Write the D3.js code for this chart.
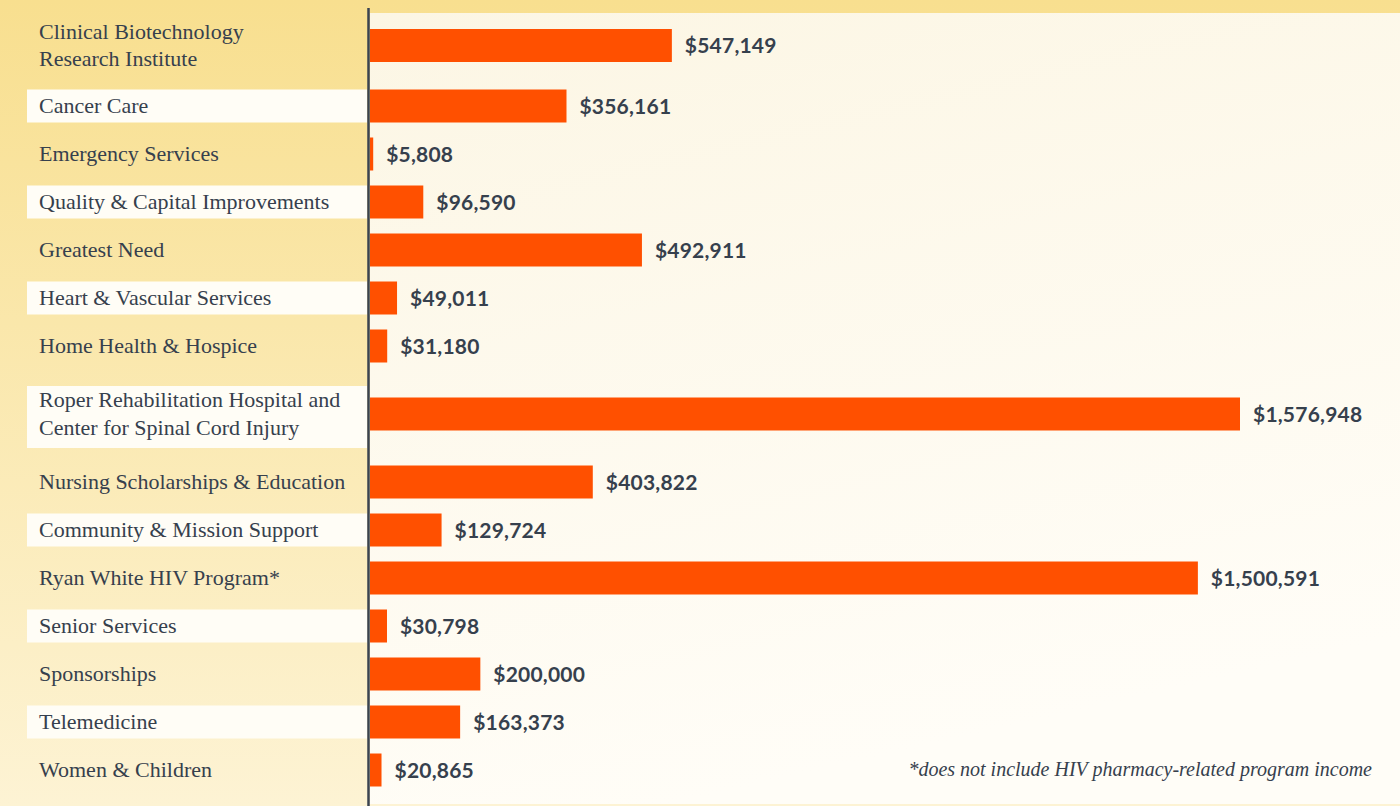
<!DOCTYPE html>
<html>
<head>
<meta charset="utf-8">
<script src="https://cdn.jsdelivr.net/npm/d3@7"></script>
<style>
  body { margin: 0; background: #fdf3d3; }
  svg { display: block; }
</style>
</head>
<body>
<script>
'use strict';

// program names (two-line names are split with "|")
const categories = [
  "Clinical Biotechnology|Research Institute",
  "Cancer Care",
  "Emergency Services",
  "Quality & Capital Improvements",
  "Greatest Need",
  "Heart & Vascular Services",
  "Home Health & Hospice",
  "Roper Rehabilitation Hospital and|Center for Spinal Cord Injury",
  "Nursing Scholarships & Education",
  "Community & Mission Support",
  "Ryan White HIV Program*",
  "Senior Services",
  "Sponsorships",
  "Telemedicine",
  "Women & Children"
];

// dollars raised per program
const amounts = [547149, 356161, 5808, 96590, 492911, 49011, 31180, 1576948,
                 403822, 129724, 1500591, 30798, 200000, 163373, 20865];

const footnote = "*does not include HIV pharmacy-related program income";

const width = 1400, height = 806;
const axisX = 370;

const svg = d3.select("body").append("svg")
  .attr("width", width)
  .attr("height", height);

// gradients for the backdrop
const defs = svg.append("defs");
const gLeft = defs.append("linearGradient").attr("id", "bgLeft")
  .attr("x1", 0).attr("y1", 0).attr("x2", 0).attr("y2", 1);
gLeft.append("stop").attr("offset", "0%").attr("stop-color", "#f8df8f");
gLeft.append("stop").attr("offset", "100%").attr("stop-color", "#fdf3d4");

const gPlot = defs.append("linearGradient").attr("id", "bgPlot")
  .attr("x1", 0).attr("y1", 0).attr("x2", 0.3).attr("y2", 1);
gPlot.append("stop").attr("offset", "0%").attr("stop-color", "#fcf6e4");
gPlot.append("stop").attr("offset", "100%").attr("stop-color", "#fffdf7");

svg.append("rect")
  .attr("width", width).attr("height", height)
  .attr("fill", "url(#bgLeft)");

svg.append("rect")
  .attr("x", axisX).attr("y", 13)
  .attr("width", width - axisX).attr("height", height - 15)
  .attr("fill", "url(#bgPlot)");

// row layout: one-line rows get 48px, two-line rows more room
const rows = categories.map((c, i) => {
  const lines = c.split("|");
  let h = lines.length > 1 ? 88 : 48;
  if (i === 0) h = 73; // top row sits tighter against the header strip
  return {name: c, lines: lines, value: amounts[i], h: h};
});
let acc = 9;
rows.forEach((r) => { r.cy = acc + r.h / 2; acc += r.h; });

const x = d3.scaleLinear()
  .domain([0, d3.max(amounts)])
  .range([axisX, 1240]);

const barH = 33;

// white boxes behind every other label
svg.selectAll(".labelBox")
  .data(rows.filter((d, i) => i % 2 === 1))
  .enter().append("rect")
    .attr("class", "labelBox")
    .attr("x", 27)
    .attr("width", axisX - 3 - 27)
    .attr("y", (d) => d.lines.length > 1 ? d.cy - 28 : d.cy - 16.5)
    .attr("height", (d) => d.lines.length > 1 ? 62 : 33)
    .attr("fill", "#fffdf6");

// category labels
const labels = svg.selectAll(".cat")
  .data(rows)
  .enter().append("text")
    .attr("class", "cat")
    .attr("x", 39)
    .attr("y", (d) => d.cy)
    .style("font-family", "'Liberation Serif', 'Times New Roman', serif")
    .style("font-size", "22px")
    .attr("fill", "#36404d");

labels.selectAll("tspan")
  .data((d) => d.lines.map((l, k) => ({t: l, k: k, n: d.lines.length})))
  .enter().append("tspan")
    .attr("x", 39)
    .attr("dy", (d) => d.k === 0 ? (d.n > 1 ? "-0.3em" : "0.32em") : "1.25em")
    .text((d) => d.t);

// bars
svg.selectAll(".bar")
  .data(rows)
  .enter().append("rect")
    .attr("class", "bar")
    .attr("x", x(0))
    .attr("y", (d) => d.cy - barH / 2)
    .attr("width", (d) => x(d.value) - x(0))
    .attr("height", barH)
    .attr("fill", "#ff5000");

// value labels
const fmt = d3.format("$,");
svg.selectAll(".val")
  .data(rows)
  .enter().append("text")
    .attr("class", "val")
    .attr("x", (d) => x(d.value) + 13)
    .attr("y", (d) => d.cy)
    .attr("dy", "0.36em")
    .style("font-family", "Lato, 'Open Sans', sans-serif")
    .style("font-weight", "bold")
    .style("font-size", "21px")
    .style("letter-spacing", "0.2px")
    .attr("fill", "#36404d")
    .text((d) => fmt(d.value));

// axis line
svg.append("line")
  .attr("x1", axisX - 1.5).attr("x2", axisX - 1.5)
  .attr("y1", 8).attr("y2", height)
  .attr("stroke", "#3a4350")
  .attr("stroke-width", 2.5);

// footnote
svg.append("text")
  .attr("x", 1372)
  .attr("y", rows[rows.length - 1].cy)
  .attr("dy", "0.32em")
  .attr("text-anchor", "end")
  .style("font-family", "'Liberation Serif', 'Times New Roman', serif")
  .style("font-style", "italic")
  .style("font-size", "20px")
  .attr("fill", "#36404d")
  .text(footnote);
</script>
</body>
</html>
